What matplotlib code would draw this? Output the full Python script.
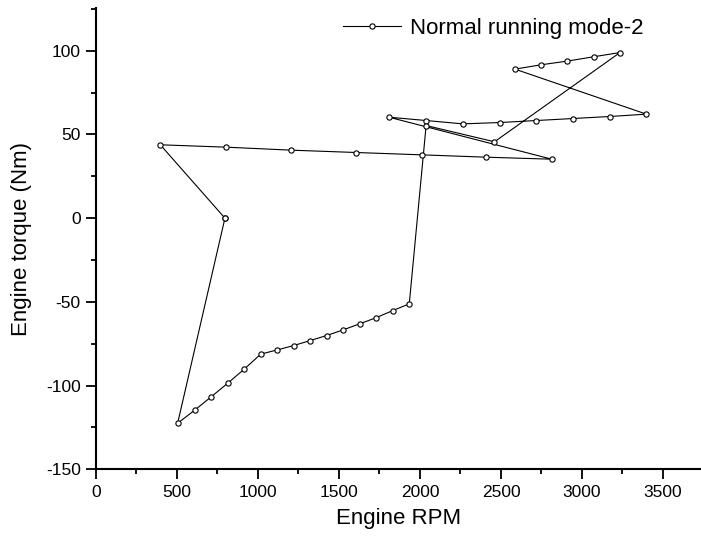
import matplotlib
matplotlib.use("Agg")
import matplotlib.pyplot as plt
from matplotlib.ticker import MultipleLocator

plt.rcParams['font.family'] = ['Liberation Sans', 'DejaVu Sans']
plt.rcParams['axes.unicode_minus'] = False

# Engine operating path (RPM, torque) in drive order
rpm = [796, 397, 801, 1204, 1606, 2011, 2410, 2814,
       1808, 2038, 2265, 2492, 2719, 2946, 3171, 3398,
       2586, 2749, 2910, 3074, 3235,
       2460, 2038,
       1934, 1832, 1731, 1628, 1527, 1424, 1323, 1220, 1119, 1017,
       915, 813, 710, 609, 504, 796]
torque = [0.0, 43.8, 42.4, 40.6, 39.2, 37.8, 36.4, 35.2,
          60.3, 58.3, 56.3, 57.1, 58.3, 59.5, 60.7, 62.1,
          89.0, 91.6, 93.8, 96.4, 98.9,
          45.6, 55.3,
          -51.2, -55.2, -59.4, -63.1, -66.7, -70.1, -73.1, -76.1, -78.7, -81.2,
          -90.2, -98.6, -106.8, -114.7, -122.5, 0.0]

series_label = "Normal running mode-2"
x_ticks = [0, 500, 1000, 1500, 2000, 2500, 3000, 3500]
y_ticks = [-150, -100, -50, 0, 50, 100]

fig = plt.figure(figsize=(7.01, 5.42), dpi=100)
ax = fig.add_axes([96/701, 1 - 469.3/542, 1 - 96/701, (469.3 - 8)/542])

ax.plot(rpm, torque, color='black', linewidth=0.8, marker='o', markersize=3.8,
        markerfacecolor='white', markeredgecolor='black', markeredgewidth=0.8,
        label=series_label)

ax.set_xlim(0, 3735)
ax.set_ylim(-150, 125.5)
ax.set_xticks(x_ticks)
ax.set_yticks(y_ticks)
ax.xaxis.set_minor_locator(MultipleLocator(250))
ax.yaxis.set_minor_locator(MultipleLocator(25))

for s in ['top', 'right']:
    ax.spines[s].set_visible(False)
for s in ['left', 'bottom']:
    ax.spines[s].set_linewidth(1.5)

ax.tick_params(which='major', direction='out', length=7, width=1.3, labelsize=12.5, pad=4)
ax.tick_params(which='minor', direction='out', length=3.5, width=1.3)

ax.set_xlabel("Engine RPM", fontsize=16, labelpad=6)
ax.set_ylabel("Engine torque (Nm)", fontsize=16, labelpad=10)

leg = ax.legend(loc='upper right', bbox_to_anchor=(0.927, 1.007), frameon=False,
                fontsize=16, handlelength=2.6, handletextpad=0.4, borderaxespad=0.2)

fig.savefig("out.png", dpi=100)
